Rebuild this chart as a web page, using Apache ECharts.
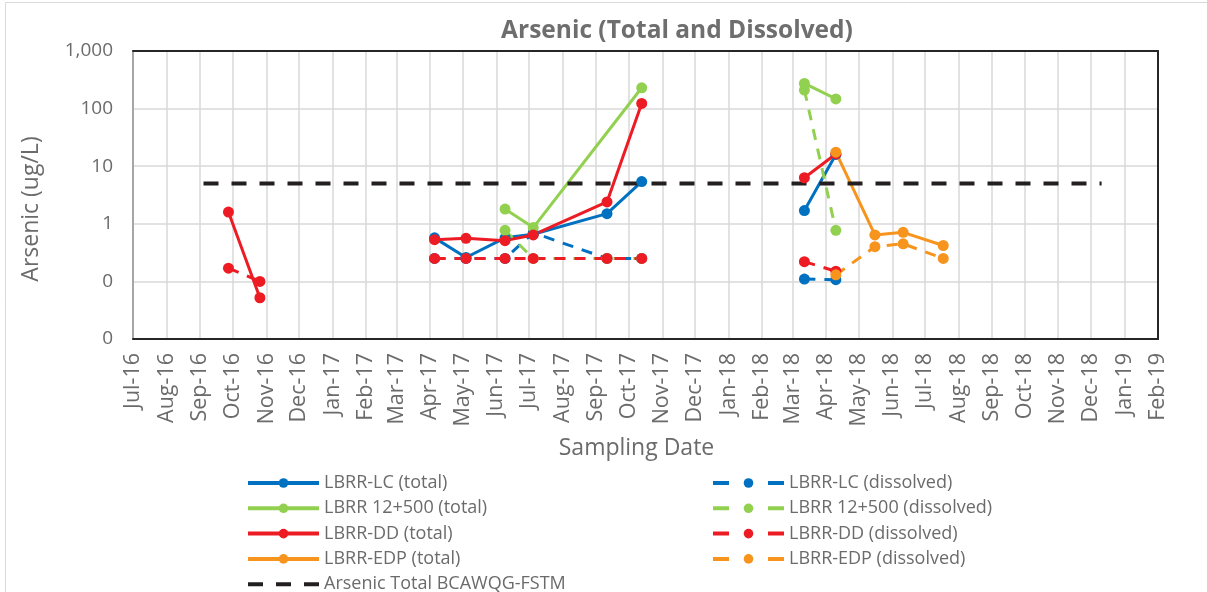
<!DOCTYPE html>
<html>
<head>
<meta charset="utf-8">
<script src="https://cdn.jsdelivr.net/npm/echarts@6/dist/echarts.min.js"></script>
<style>
  html, body { margin: 0; padding: 0; background: #ffffff; }
  #chart { width: 1207px; height: 592px; }
</style>
</head>
<body>
<div id="chart"></div>
<script>
// ---------------- Data ----------------
const samplingDates = ['2016-09-27','2016-10-26','2017-04-05','2017-05-04','2017-06-09','2017-07-05',
                       '2017-09-11','2017-10-13','2018-03-12','2018-04-10','2018-05-16','2018-06-11','2018-07-18'];
// sampling campaign of each date (lines are not drawn between campaigns)
const campaign = [1,1,2,2,2,2,2,2,3,3,3,3,3];

const lcTotal        = [null, null, 0.57, 0.26, 0.57, 0.66, 1.5, 5.4, 1.7, 16, null, null, null];
const lcDissolved    = [null, null, 0.25, 0.25, 0.25, 0.70, 0.25, 0.25, 0.11, 0.107, null, null, null];
const k12Total       = [null, null, null, null, 1.8, 0.86, null, 230, 274, 147, null, null, null];
const k12Dissolved   = [null, null, null, null, 0.77, 0.25, 0.25, 0.25, 210, 0.77, null, null, null];
const ddTotal        = [1.6, 0.052, 0.53, 0.56, 0.51, 0.64, 2.4, 123, 6.3, 16.3, null, null, null];
const ddDissolved    = [0.17, 0.10, 0.25, 0.25, 0.25, 0.25, 0.25, 0.25, 0.22, 0.15, null, null, null];
const edpTotal       = [null, null, null, null, null, null, null, null, null, 17.5, 0.64, 0.71, 0.42];
const edpDissolved   = [null, null, null, null, null, null, null, null, null, 0.13, 0.40, 0.45, 0.25];

const guidelineDates  = ['2016-09-04', '2018-12-11'];
const guidelineValues = [5, 5];

const xAxisMin = '2016-07-01';
const xAxisMax = '2019-02-01';
const monthNames = ['Jan','Feb','Mar','Apr','May','Jun','Jul','Aug','Sep','Oct','Nov','Dec'];

const yTickValues = [0.01, 0.1, 1, 10, 100, 1000];
const yTickLabels = ['0', '0', '1', '10', '100', '1,000'];

const seriesNames = ['LBRR-LC (total)', 'LBRR-LC (dissolved)', 'LBRR 12+500 (total)', 'LBRR 12+500 (dissolved)',
                     'LBRR-DD (total)', 'LBRR-DD (dissolved)', 'LBRR-EDP (total)', 'LBRR-EDP (dissolved)'];
const guidelineName = 'Arsenic Total BCAWQG-FSTM';

// ---------------- Helpers ----------------
function toTime(s) {
  const p = s.split('-').map(Number);
  return new Date(p[0], p[1] - 1, p[2]).getTime();
}
function buildData(values) {
  const out = [];
  let prev = null;
  values.forEach((v, i) => {
    if (v === null) return;
    if (prev !== null && campaign[i] !== prev) out.push([toTime(samplingDates[i]), '-']);
    out.push([toTime(samplingDates[i]), v]);
    prev = campaign[i];
  });
  return out;
}

const BLUE = '#0070C0', GREEN = '#92D050', RED = '#ED1C24', ORANGE = '#F7941D', BLACK = '#231F20';
const TEXT = '#6b6b6b';
const FONT = 'Open Sans';

function mkSeries(name, values, color, dashed) {
  return {
    name: name,
    type: 'line',
    data: buildData(values),
    symbol: 'circle',
    symbolSize: 11,
    showSymbol: true,
    connectNulls: false,
    itemStyle: { color: color },
    lineStyle: { color: color, width: 3, type: dashed ? [11, 9] : 'solid' },
    emphasis: { disabled: true },
    animation: false
  };
}

const series = [
  mkSeries(seriesNames[0], lcTotal, BLUE, false),
  mkSeries(seriesNames[1], lcDissolved, BLUE, true),
  mkSeries(seriesNames[2], k12Total, GREEN, false),
  mkSeries(seriesNames[3], k12Dissolved, GREEN, true),
  mkSeries(seriesNames[4], ddTotal, RED, false),
  mkSeries(seriesNames[5], ddDissolved, RED, true),
  mkSeries(seriesNames[6], edpTotal, ORANGE, false),
  mkSeries(seriesNames[7], edpDissolved, ORANGE, true),
  {
    name: guidelineName,
    type: 'line',
    data: guidelineDates.map((d, i) => [toTime(d), guidelineValues[i]]),
    showSymbol: false,
    symbol: 'none',
    itemStyle: { color: BLACK },
    lineStyle: { color: BLACK, width: 4, type: [15, 13] },
    emphasis: { disabled: true },
    animation: false
  }
];

const legendText = { fontFamily: FONT, fontSize: 18, color: TEXT, lineHeight: 20 };
const legendCommon = {
  orient: 'vertical', top: 473, height: 140, padding: 0,
  itemWidth: 71, itemHeight: 12, itemGap: 5.3,
  textStyle: legendText, selectedMode: false
};
const solidItem = name => ({ name: name, lineStyle: { width: 4 } });
const dashedItem = name => ({ name: name, lineStyle: { width: 4, type: [16, 39] } });

const option = {
  animation: false,
  backgroundColor: '#ffffff',
  textStyle: { fontFamily: FONT },
  title: {
    text: 'Arsenic (Total and Dissolved)',
    left: 672,
    textAlign: 'center',
    top: 14,
    textStyle: { fontFamily: FONT, fontSize: 24.5, fontWeight: 'bold', color: '#6e6e6e' }
  },
  grid: { left: 133, right: 49, top: 51, bottom: 253, containLabel: false },
  legend: [
    Object.assign({}, legendCommon, {
      data: [solidItem(seriesNames[0]), solidItem(seriesNames[2]), solidItem(seriesNames[4]), solidItem(seriesNames[6]),
             { name: guidelineName, itemStyle: { opacity: 0 }, lineStyle: { width: 4, type: [15, 13] } }],
      left: 246
    }),
    Object.assign({}, legendCommon, {
      data: [dashedItem(seriesNames[1]), dashedItem(seriesNames[3]), dashedItem(seriesNames[5]), dashedItem(seriesNames[7])],
      left: 711
    })
  ],
  xAxis: [
    {
      type: 'time',
      min: toTime(xAxisMin),
      max: toTime(xAxisMax),
      splitNumber: 31,
      minInterval: 28 * 86400000,
      maxInterval: 31 * 86400000,
      name: 'Sampling Date',
      nameLocation: 'middle',
      nameGap: 98,
      nameTextStyle: { fontFamily: FONT, fontSize: 23, color: TEXT, padding: [0, 18, 0, 0] },
      axisLine: { show: true, lineStyle: { color: '#262626', width: 2 } },
      axisTick: { show: false },
      axisLabel: {
        rotate: 90, margin: 14, fontFamily: FONT, fontSize: 21.5, color: TEXT,
        showMinLabel: true, showMaxLabel: true, hideOverlap: false,
        formatter: function (val) {
          const d = new Date(val);
          return monthNames[d.getMonth()] + '-' + String(d.getFullYear()).slice(2);
        }
      },
      splitLine: { show: true, lineStyle: { color: '#D9D9D9', width: 1.5 } }
    },
    {
      type: 'time', position: 'top',
      min: toTime(xAxisMin), max: toTime(xAxisMax),
      axisLine: { show: true, lineStyle: { color: '#262626', width: 2 } },
      axisTick: { show: false }, axisLabel: { show: false }, splitLine: { show: false }
    }
  ],
  yAxis: [
    {
      type: 'log',
      logBase: 10,
      min: yTickValues[0],
      max: yTickValues[yTickValues.length - 1],
      name: 'Arsenic (ug/L)',
      nameLocation: 'middle',
      nameGap: 90,
      nameTextStyle: { fontFamily: FONT, fontSize: 23, color: TEXT, padding: [0, 28, 0, 0] },
      axisLine: { show: true, lineStyle: { color: '#A6A6A6', width: 2 } },
      axisTick: { show: false },
      axisLabel: {
        fontFamily: FONT, fontSize: 19, color: TEXT, margin: 20,
        formatter: function (val) {
          let best = 0;
          yTickValues.forEach((t, i) => {
            if (Math.abs(Math.log10(t) - Math.log10(val)) < Math.abs(Math.log10(yTickValues[best]) - Math.log10(val))) best = i;
          });
          return yTickLabels[best];
        }
      },
      splitLine: { show: true, lineStyle: { color: '#D9D9D9', width: 1.5 } }
    },
    {
      type: 'log', logBase: 10, position: 'right',
      min: yTickValues[0], max: yTickValues[yTickValues.length - 1],
      axisLine: { show: true, lineStyle: { color: '#262626', width: 2 } },
      axisTick: { show: false }, axisLabel: { show: false }, splitLine: { show: false }
    }
  ],
  graphic: [
    {
      type: 'rect',
      shape: { x: 5.5, y: 2.5, width: 1300, height: 700 },
      style: { fill: 'none', stroke: '#D9D9D9', lineWidth: 1 },
      silent: true, z: -10
    }
  ],
  series: series
};

const chart = echarts.init(document.getElementById('chart'), null, { renderer: 'canvas' });
chart.setOption(option);
</script>
</body>
</html>
